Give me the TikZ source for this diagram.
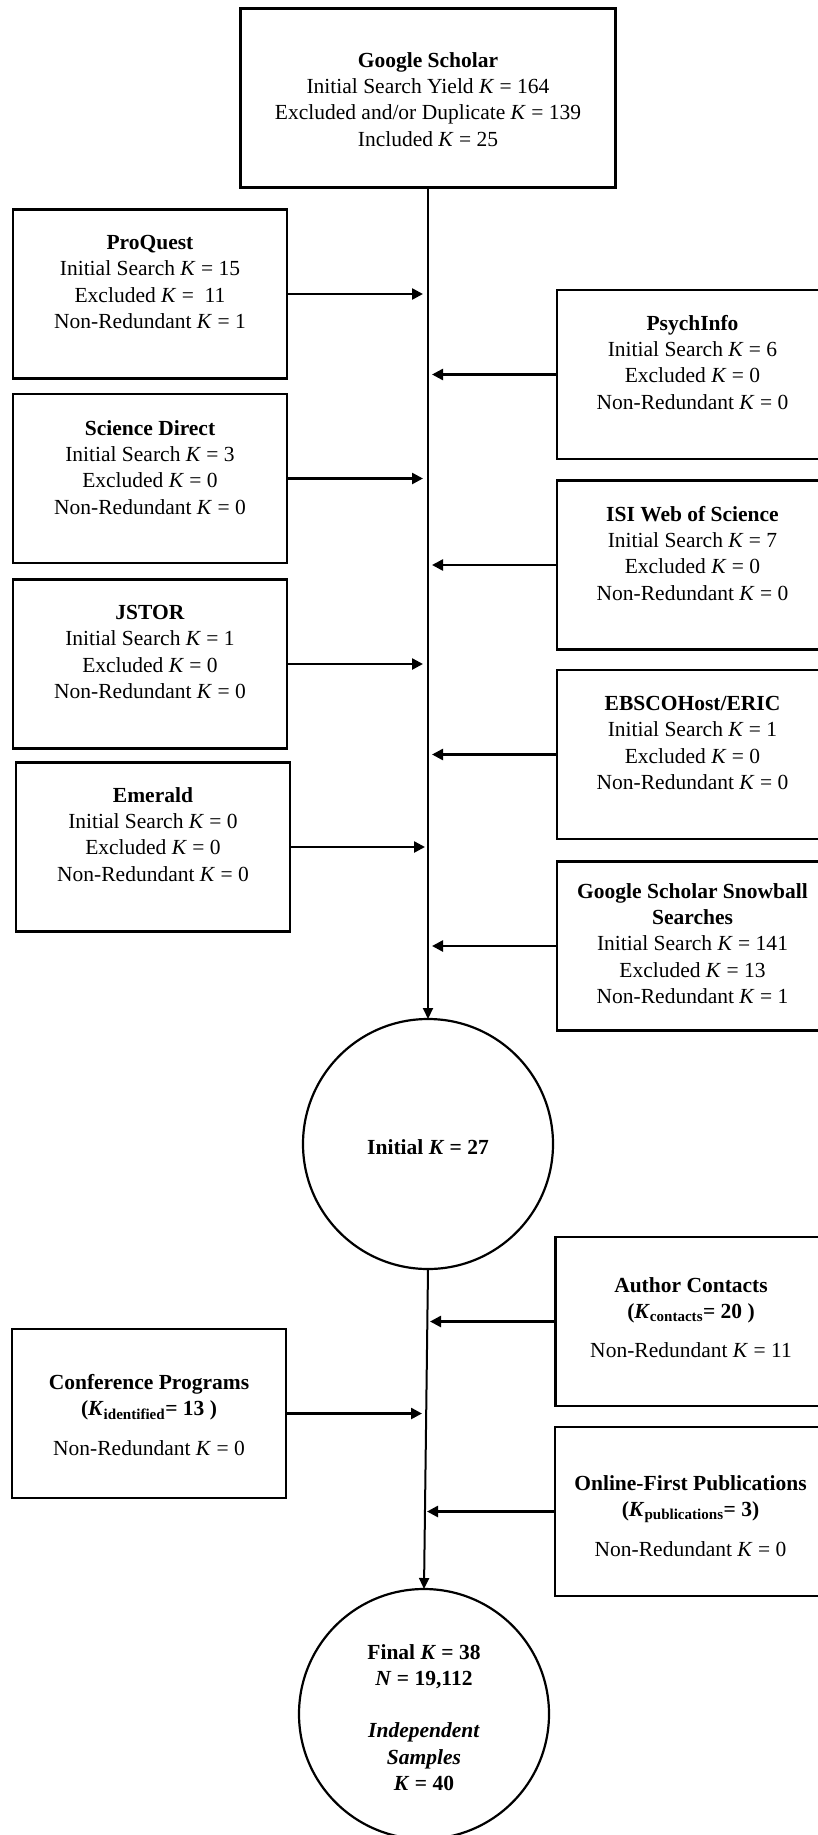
\documentclass[tikz,border=0pt]{standalone}
\usepackage{fontspec}
\setmainfont{Liberation Serif}
\usetikzlibrary{arrows.meta}
\newcommand{\Kit}{\textit{K}}
\begin{document}
\begin{tikzpicture}[x=1pt,y=-1pt,
  lbox/.style={draw,line width=2.6pt,rectangle,minimum width=274pt,minimum height=169pt,inner sep=0pt,outer sep=0pt},
  rbox/.style={draw,line width=2.6pt,rectangle,minimum width=271pt,minimum height=169pt,inner sep=0pt,outer sep=0pt},
  circ/.style={draw,line width=2.2pt,circle,minimum size=250pt,inner sep=0pt,outer sep=0pt},
  txt/.style={font=\fontsize{21.5pt}{26.3pt}\selectfont,align=center,inner sep=0pt,anchor=north},
  harr/.style={line width=2.5pt,-{Triangle[length=11pt,width=11pt]}},
  varr/.style={line width=2pt,-{Triangle[length=11pt,width=10pt]}}
]
\useasboundingbox (0,0) rectangle (818,1835);
\fill[white] (0,0) rectangle (818,1835);

% Google Scholar
\node[draw,line width=2.6pt,rectangle,minimum width=375pt,minimum height=179pt,inner sep=0pt,outer sep=0pt] (gs) at (428,98) {};
\node[txt] (gst) at (428,52) {\textbf{Google Scholar}\\Initial Search Yield \Kit{} = 164\\Excluded and/or Duplicate \Kit{} = 139\\Included \Kit{} = 25};

% left boxes
\node[lbox] (pq) at (150,294) {};
\node[txt] (pqt) at (150,235) {\textbf{ProQuest}\\Initial Search \Kit{} = 15\\Excluded \Kit{} = \ 11\\Non-Redundant \Kit{} = 1};

\node[lbox] (sd) at (150,478.5) {};
\node[txt] (sdt) at (150,420) {\textbf{Science Direct}\\Initial Search \Kit{} = 3\\Excluded \Kit{} = 0\\Non-Redundant \Kit{} = 0};

\node[lbox] (js) at (150,664) {};
\node[txt] (jst) at (150,605) {\textbf{JSTOR}\\Initial Search \Kit{} = 1\\Excluded \Kit{} = 0\\Non-Redundant \Kit{} = 0};

\node[lbox] (em) at (153,847) {};
\node[txt] (emt) at (153,787) {\textbf{Emerald}\\Initial Search \Kit{} = 0\\Excluded \Kit{} = 0\\Non-Redundant \Kit{} = 0};

% right boxes
\node[rbox] (ps) at (692.5,374.5) {};
\node[txt] (pst) at (692.5,315) {\textbf{PsychInfo}\\Initial Search \Kit{} = 6\\Excluded \Kit{} = 0\\Non-Redundant \Kit{} = 0};

\node[rbox] (isi) at (692.5,565) {};
\node[txt] (isit) at (692.5,506) {\textbf{ISI Web of Science}\\Initial Search \Kit{} = 7\\Excluded \Kit{} = 0\\Non-Redundant \Kit{} = 0};

\node[rbox] (eb) at (692.5,754.5) {};
\node[txt] (ebt) at (692.5,696) {\textbf{EBSCOHost/ERIC}\\Initial Search \Kit{} = 1\\Excluded \Kit{} = 0\\Non-Redundant \Kit{} = 0};

\node[rbox] (sn) at (692.5,946) {};
\node[txt] (snt) at (692.5,883) {\textbf{Google Scholar Snowball}\\\textbf{Searches}\\Initial Search \Kit{} = 141\\Excluded \Kit{} = 13\\Non-Redundant \Kit{} = 1};

% initial circle
\node[circ] (init) at (428,1144) {};
\node[txt,anchor=center] (initt) at (428,1147) {\textbf{Initial \textit{K} = 27}};

% lower boxes
\node[rbox] (au) at (691,1321.5) {};
\node[txt] (aut) at (691,1277) {\textbf{Author Contacts}\\\textbf{(\textit{K}\textsubscript{contacts}= 20 )}\\[13pt]Non-Redundant \Kit{} = 11};

\node[lbox] (cp) at (149,1413.5) {};
\node[txt] (cpt) at (149,1374) {\textbf{Conference Programs}\\\textbf{(\textit{K}\textsubscript{identified}= 13 )}\\[14pt]Non-Redundant \Kit{} = 0};

\node[rbox] (on) at (690.5,1511.5) {};
\node[txt] (ont) at (690.5,1475) {\textbf{Online-First Publications}\\\textbf{(\textit{K}\textsubscript{publications}= 3)}\\[14pt]Non-Redundant \Kit{} = 0};

% final circle
\node[circ] (fin) at (424,1714) {};
\node[txt] (fint) at (424,1644) {\textbf{Final \textit{K} = 38}\\\textbf{\textit{N} = 19,112}\\[26pt]\textbf{\textit{Independent}}\\\textbf{\textit{Samples}}\\\textbf{\textit{K} = 40}};

% main connectors
\draw[varr] (gs.south) -- (init.north);
\draw[varr] (init.south) -- (fin.north);

% horizontal arrows, upper part
\draw[harr] (pq.east) -- ([xshift=-5pt]pq.east -| gs.south);
\draw[harr] (sd.east) -- ([xshift=-5pt]sd.east -| gs.south);
\draw[harr] (js.east) -- ([xshift=-5pt]js.east -| gs.south);
\draw[harr] (em.east) -- ([xshift=-3pt]em.east -| gs.south);
\draw[harr] (ps.west) -- ([xshift=4pt]ps.west -| gs.south);
\draw[harr] (isi.west) -- ([xshift=4pt]isi.west -| gs.south);
\draw[harr] (eb.west) -- ([xshift=4pt]eb.west -| gs.south);
\draw[harr] (sn.west) -- ([xshift=4pt]sn.west -| gs.south);

% horizontal arrows, lower part
\draw[harr] (au.west) -- ([xshift=2pt]au.west -| init.south);
\draw[harr] (cp.east) -- ([xshift=-6pt]cp.east -| init.south);
\draw[harr] (on.west) -- ([xshift=3pt]on.west -| fin.north);
\end{tikzpicture}
\end{document}
